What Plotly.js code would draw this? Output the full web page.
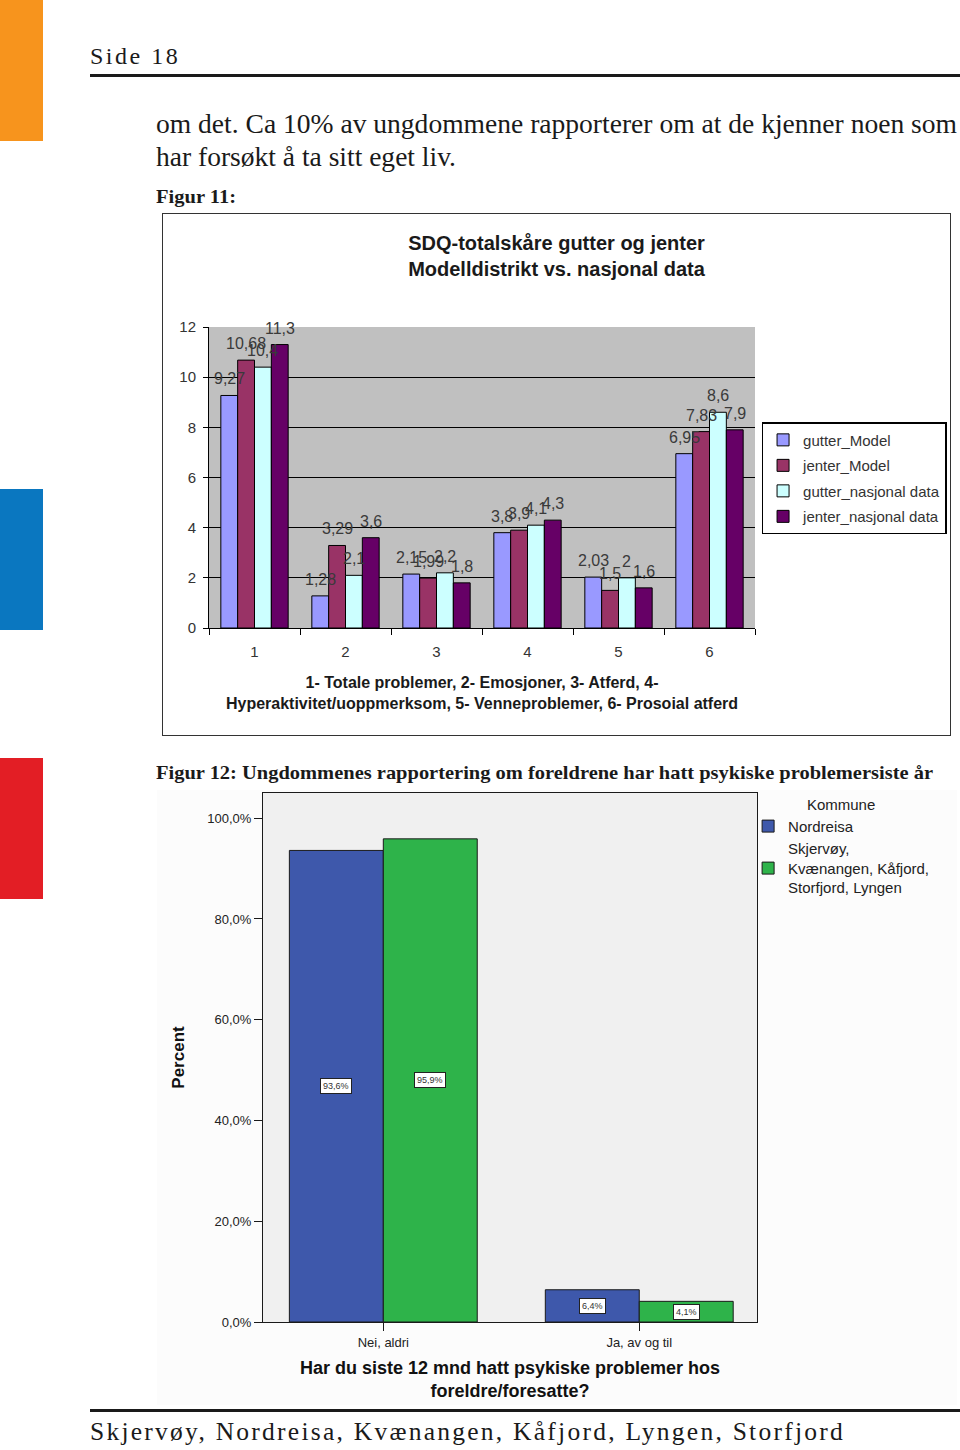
<!DOCTYPE html>
<html>
<head>
<meta charset="utf-8">
<script src="https://cdn.plot.ly/plotly-3.0.1.min.js"></script>
<style>
body { margin: 0; background: #fff; }
#page { position: relative; width: 960px; height: 1450px; overflow: hidden; background: #fff; }
.strip { position: absolute; left: 0; width: 43px; height: 141px; }
.rule { position: absolute; left: 90px; width: 870px; height: 3px; background: #1a1a1a; }
.txt { position: absolute; white-space: nowrap; color: #1a1a1a; font-family: "Liberation Serif", serif; line-height: 1; transform-origin: left top; }
.fit { display: inline-block; }
#chart_sdq { position: absolute; left: 162px; top: 213px; width: 787px; height: 521px; border: 1px solid #333; }
#chart_foreldre { position: absolute; left: 157px; top: 790px; width: 800px; height: 615px; }
</style>
</head>
<body>
<div id="page">
	<div class="strip" style="top:0;background:#f7941d"></div>
	<div class="strip" style="top:489px;background:#0a77c0"></div>
	<div class="strip" style="top:758px;background:#e31e25"></div>

	<div class="txt" style="left:90px;top:44px;font-size:24px;letter-spacing:2.5px">Side 18</div>
	<div class="rule" style="top:74px"></div>

	<div class="txt fit" data-w="801" style="left:156px;top:110px;font-size:28px">om det. Ca 10% av ungdommene rapporterer om at de kjenner noen som</div>
	<div class="txt fit" data-w="300" style="left:156px;top:143px;font-size:28px">har forsøkt å ta sitt eget liv.</div>
	<div class="txt fit" data-w="80" style="left:156px;top:187px;font-size:19px;font-weight:bold">Figur 11:</div>
	<div class="txt fit" data-w="777" style="left:156px;top:763px;font-size:19px;font-weight:bold">Figur 12: Ungdommenes rapportering om foreldrene har hatt psykiske problemersiste år</div>

	<div id="chart_sdq"></div>
	<div id="chart_foreldre"></div>

	<div class="rule" style="top:1409px"></div>
	<div class="txt fit" data-w="755" style="left:90px;top:1419px;font-size:25px;letter-spacing:2.2px">Skjervøy, Nordreisa, Kvænangen, Kåfjord, Lyngen, Storfjord</div>
</div>

<script>
// Figur 11: SDQ-totalskåre
var sdq_kategorier = ['1', '2', '3', '4', '5', '6'];
var gutter_model = [9.27, 1.28, 2.15, 3.8, 2.03, 6.95];
var jenter_model = [10.68, 3.29, 1.99, 3.9, 1.5, 7.83];
var gutter_nasjonal = [10.4, 2.1, 2.2, 4.1, 2, 8.6];
var jenter_nasjonal = [11.3, 3.6, 1.8, 4.3, 1.6, 7.9];
var sdq_yticks = [0, 2, 4, 6, 8, 10, 12];

// Figur 12: foreldre med psykiske problemer
var svar_kategorier = ['Nei, aldri', 'Ja, av og til'];
var nordreisa = [93.6, 6.4];
var andre_kommuner = [95.9, 4.1];
var prosent_ticks = [0, 20, 40, 60, 80, 100];

function komma(v) {
	return String(v).replace('.', ',');
}

var bargap_sdq = 0.26;
var sdq_serier = [gutter_model, jenter_model, gutter_nasjonal, jenter_nasjonal];
var sdq_bredde = (1 - bargap_sdq) / sdq_serier.length;

function sdq_bar(name, vals, color)
{
	return {
		type: 'bar',
		name: name,
		legendgroup: name,
		x: sdq_kategorier,
		y: vals,
		marker: { color: color, line: { color: '#000', width: 1 } },
		hoverinfo: 'skip'
	};
}

var data_sdq = [
	sdq_bar('gutter_Model', gutter_model, '#9999ff'),
	sdq_bar('jenter_Model', jenter_model, '#993366'),
	sdq_bar('gutter_nasjonal data', gutter_nasjonal, '#ccffff'),
	sdq_bar('jenter_nasjonal data', jenter_nasjonal, '#660066')
];

// value labels on top of every bar (drawn above all bars, like the original)
var sdq_etiketter = [];
sdq_serier.forEach(function(vals, j) {
	vals.forEach(function(v, i) {
		sdq_etiketter.push({
			x: i + (j - (sdq_serier.length - 1) / 2) * sdq_bredde,
			y: v,
			xref: 'x',
			yref: 'y',
			yanchor: 'bottom',
			yshift: 6,
			text: komma(v),
			showarrow: false,
			font: { size: 16, color: '#3a3a3a' }
		});
	});
});

var layout_sdq = {
	width: 787,
	height: 521,
	margin: { l: 46, r: 195, t: 113, b: 107, autoexpand: false },
	paper_bgcolor: '#fff',
	plot_bgcolor: '#c0c0c0',
	font: { family: 'Liberation Sans, Arial, sans-serif', color: '#222' },
	title: {
		text: 'SDQ-totalskåre gutter og jenter<br>Modelldistrikt vs. nasjonal data',
		font: { size: 20, color: '#1a1a1a', weight: 'bold' },
		x: 0.5,
		xref: 'container',
		xanchor: 'center',
		yref: 'paper',
		y: 1,
		yanchor: 'bottom',
		pad: { b: 77 }
	},
	barmode: 'group',
	bargap: bargap_sdq,
	bargroupgap: 0,
	annotations: sdq_etiketter,
	showlegend: true,
	legend: {
		x: 1.012, xanchor: 'left',
		y: 0.684, yanchor: 'top',
		bgcolor: '#fff',
		bordercolor: '#000',
		borderwidth: 1.5,
		font: { size: 15, color: '#333' },
		traceorder: 'grouped',
		tracegroupgap: 3
	},
	xaxis: {
		type: 'category',
		showline: true,
		linecolor: '#000',
		linewidth: 1,
		ticks: 'outside',
		tickson: 'boundaries',
		ticklen: 6,
		tickcolor: '#000',
		ticklabelstandoff: 10,
		tickfont: { size: 15, color: '#333' },
		title: {
			text: '1- Totale problemer, 2- Emosjoner, 3- Atferd, 4-<br>Hyperaktivitet/uoppmerksom, 5- Venneproblemer, 6- Prosoial atferd',
			font: { size: 16, color: '#1a1a1a', weight: 'bold' },
			standoff: 17
		},
		fixedrange: true
	},
	yaxis: {
		range: [0, 12],
		tickvals: sdq_yticks,
		showgrid: true,
		gridcolor: '#000',
		gridwidth: 1,
		zeroline: false,
		showline: true,
		linecolor: '#000',
		ticks: 'outside',
		ticklen: 5,
		tickcolor: '#000',
		ticklabelstandoff: 4,
		tickfont: { size: 15, color: '#333' },
		fixedrange: true
	}
};

var bargap_f = 0.266;
var barbredde = (1 - bargap_f) / 2;

function foreldre_bar(name, vals, color)
{
	return {
		type: 'bar',
		name: name,
		x: svar_kategorier,
		y: vals,
		marker: { color: color, line: { color: '#1a1a1a', width: 1 } },
		hoverinfo: 'skip'
	};
}

var data_foreldre = [
	foreldre_bar('Nordreisa', nordreisa, '#3e58ab'),
	foreldre_bar('Skjervøy,<br>Kvænangen, Kåfjord,<br>Storfjord, Lyngen', andre_kommuner, '#2eb34a')
];

var etiketter = [];
[nordreisa, andre_kommuner].forEach(function(vals, j) {
	vals.forEach(function(v, i) {
		etiketter.push({
			x: i + (j - 0.5) * barbredde,
			y: v / 2,
			xref: 'x',
			yref: 'y',
			text: komma(v) + '%',
			showarrow: false,
			bgcolor: '#fff',
			bordercolor: '#222',
			borderwidth: 1,
			borderpad: 2,
			font: { size: 9, color: '#333' }
		});
	});
});

var layout_foreldre = {
	width: 800,
	height: 615,
	margin: { l: 106, r: 200, t: 3, b: 83, autoexpand: false },
	paper_bgcolor: '#fcfcfc',
	plot_bgcolor: '#f0f0f0',
	font: { family: 'Liberation Sans, Arial, sans-serif', color: '#222' },
	barmode: 'group',
	bargap: bargap_f,
	bargroupgap: 0,
	annotations: etiketter,
	showlegend: true,
	legend: {
		x: 0.982, xanchor: 'left',
		y: 1.005, yanchor: 'top',
		bgcolor: 'rgba(0,0,0,0)',
		font: { size: 15, color: '#222' },
		title: { text: 'Kommune', side: 'top center', font: { size: 15, color: '#222' } },
		traceorder: 'normal'
	},
	xaxis: {
		type: 'category',
		range: [-0.47, 1.46],
		showline: true,
		mirror: true,
		linecolor: '#1a1a1a',
		ticks: 'outside',
		ticklen: 8,
		tickcolor: '#1a1a1a',
		tickfont: { size: 13, color: '#222' },
		title: {
			text: 'Har du siste 12 mnd hatt psykiske problemer hos<br>foreldre/foresatte?',
			font: { size: 18, color: '#111', weight: 'bold' },
			standoff: 12
		},
		fixedrange: true
	},
	yaxis: {
		range: [0, 105],
		tickvals: prosent_ticks,
		ticktext: prosent_ticks.map(function(v) { return v.toFixed(1).replace('.', ',') + '%'; }),
		showgrid: false,
		zeroline: false,
		showline: true,
		mirror: true,
		linecolor: '#1a1a1a',
		ticks: 'outside',
		ticklen: 8,
		tickcolor: '#1a1a1a',
		tickfont: { size: 13, color: '#222' },
		title: {
			text: 'Percent',
			font: { size: 17, color: '#111', weight: 'bold' },
			standoff: 18
		},
		fixedrange: true
	}
};

var config = { displayModeBar: false, staticPlot: true };

function fit_text()
{
	document.querySelectorAll('.fit').forEach(function(el) {
		var w = el.getBoundingClientRect().width;
		var target = parseFloat(el.getAttribute('data-w'));
		if (w > 0 && target) el.style.transform = 'scaleX(' + (target / w) + ')';
	});
}

fit_text();
Plotly.newPlot('chart_sdq', data_sdq, layout_sdq, config);
Plotly.newPlot('chart_foreldre', data_foreldre, layout_foreldre, config);
</script>
</body>
</html>
